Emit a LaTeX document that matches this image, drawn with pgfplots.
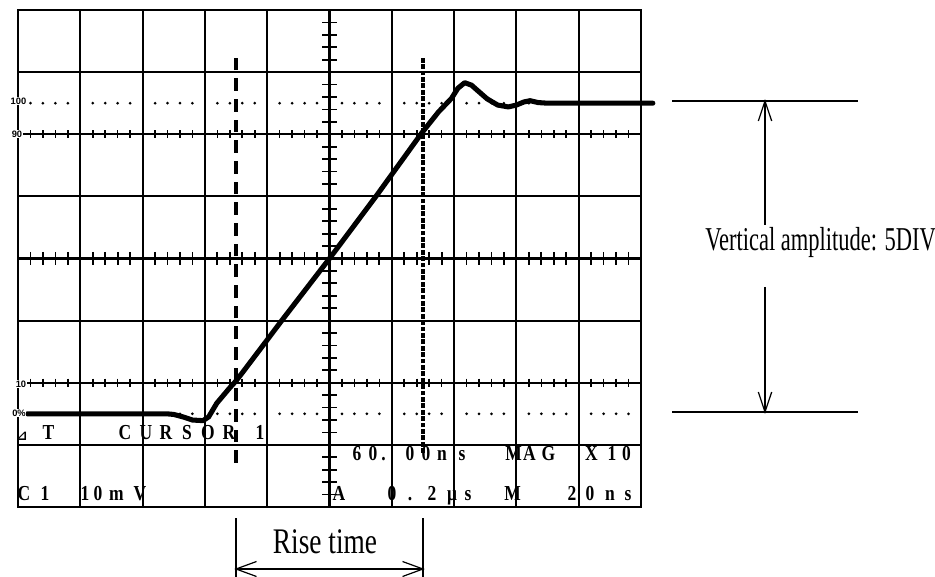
\documentclass[border=0pt]{standalone}
\usepackage{fontspec}
\setmainfont{Liberation Serif}
\newfontfamily\dejavu{DejaVu Sans}
\newfontfamily\lsans{Liberation Sans}
\usepackage{graphicx}
\usepackage{pgfplots}
\pgfplotsset{compat=1.18}
% screen character at pixel centre x, baseline y
\newcommand\ch[3]{\node[anchor=base,inner sep=0pt,font=\bfseries\fontsize{16}{16}\selectfont] at (#1,#2) {\scalebox{0.82}[1]{#3}};}
\begin{document}
\begin{tikzpicture}[x=0.75pt,y=-0.75pt]
\begin{axis}[at={(13.5pt,-380.25pt)}, anchor=south west, scale only axis,
  width=467.25pt, height=372.75pt,
  xmin=0, xmax=10, ymin=0, ymax=8,
  xtick={0,...,10}, ytick={0,...,8},
  xticklabels={}, yticklabels={},
  major tick length=0pt,
  grid=major, major grid style={black, line width=1.6pt},
  axis line style={black, line width=2.2pt},
  clip=false]
% cursor 1 (dashed)
\addplot[black, line width=3.6pt, dash pattern=on 9.5pt off 6pt] coordinates {(3.5,0.71) (3.5,7.23)};
% cursor 2 (fine dashes)
\addplot[black, line width=3.6pt, dash pattern=on 3.5pt off 1.3pt] coordinates {(6.5,0.87) (6.5,7.23)};
% waveform
\addplot[black, line width=3.8pt, line join=round, line cap=round] coordinates {
(0.15,1.5) (2.39,1.5) (2.5,1.49) (2.65,1.45) (2.8,1.40) (2.97,1.39) (3.06,1.45)
(3.19,1.67) (3.40,1.92) (3.50,2.03) (3.60,2.16) (4.00,2.69) (4.24,3.01) (5.00,4.00)
(5.76,5.02) (6.48,6.02) (6.75,6.36) (6.96,6.58) (7.06,6.74) (7.17,6.83) (7.28,6.79)
(7.37,6.71) (7.53,6.57) (7.70,6.47) (7.87,6.44) (8.00,6.47) (8.12,6.52) (8.22,6.54)
(8.35,6.51) (8.5,6.5) (10.19,6.5)};
\end{axis}
% minor ticks and dotted reference lines
\foreach \i in {0,...,9}{\foreach \k in {1,...,4}{
  \pgfmathsetmacro\xx{18+62.3*(\i+\k/5)}
  \draw[line width=1.3pt] (\xx,252) -- (\xx,265);
  \draw[line width=1.2pt] (\xx,130.2) -- (\xx,138.2);
  \draw[line width=1.2pt] (\xx,378.7) -- (\xx,386.7);
  \fill (\xx,103.2) circle[radius=1.5];
  \fill (\xx,413.8) circle[radius=1.5];
}}
\foreach \j in {0,...,7}{\foreach \k in {1,...,4}{
  \pgfmathsetmacro\yy{507-62.125*(\j+\k/5)}
  \draw[line width=1.3pt] (322,\yy) -- (337,\yy);
}}
% level labels
\begin{scope}[every node/.style={fill=white,inner sep=0.5pt,font=\lsans\bfseries\fontsize{7}{7}\selectfont}]
\node at (18.5,101) {100};
\node at (17,134) {90};
\node at (21,384) {10};
\node at (19,413) {0\%};
\end{scope}
% screen text
\node[anchor=base,inner sep=0pt,font=\dejavu\bfseries\fontsize{10}{10}\selectfont] at (22,440) {⊿};
\ch{48.5}{439}{T}
\ch{125}{439}{C}\ch{146}{439}{U}\ch{166}{439}{R}\ch{187}{439}{S}\ch{208}{439}{O}\ch{229}{439}{R}\ch{260}{439}{1}
\ch{357}{460}{6}\ch{373}{460}{0}\ch{383.5}{460}{.}\ch{410}{460}{0}\ch{426}{460}{0}\ch{442}{460}{n}\ch{462}{460}{s}
\ch{513.5}{460}{M}\ch{529.5}{460}{A}\ch{548.5}{460}{G}
\ch{591.5}{460}{X}\ch{612}{460}{1}\ch{626.5}{460}{0}
\ch{24}{500}{C}\ch{45}{500}{1}
\ch{85}{500}{1}\ch{98}{500}{0}\ch{116.5}{500}{m}\ch{140}{500}{V}
\ch{339}{500}{A}
\ch{392}{500}{0}\ch{410}{500}{.}\ch{432}{500}{2}\ch{452}{500}{μ}\ch{468}{500}{s}
\ch{512.5}{500}{M}
\ch{572}{500}{2}\ch{590}{500}{0}\ch{610}{500}{n}\ch{628}{500}{s}
% vertical amplitude annotation
\begin{scope}[line width=0.9pt]
\draw (672,101) -- (858,101);
\draw (672,412) -- (858,412);
\draw (765,101) -- (765,225);
\draw (765,287) -- (765,412);
\draw (758.3,121) -- (765,101) -- (771.7,121);
\draw (758.3,392) -- (765,412) -- (771.7,392);
% rise time annotation
\draw (236,518) -- (236,577);
\draw (423,518) -- (423,577);
\draw (236,569) -- (423,569);
\draw (256.5,561.5) -- (236,569) -- (256.5,576.5);
\draw (402.5,561.5) -- (423,569) -- (402.5,576.5);
\end{scope}
\node[anchor=base west,inner sep=0pt,font=\fontsize{25}{25}\selectfont] at (705,251) {\scalebox{0.675}[1]{Vertical amplitude: 5DIV}};
\node[anchor=base,inner sep=0pt,font=\fontsize{27}{27}\selectfont] at (325,553) {\scalebox{0.76}[1]{Rise time}};
\pgfresetboundingbox
\path[use as bounding box] (0,0) rectangle (935,577);
\end{tikzpicture}
\end{document}
